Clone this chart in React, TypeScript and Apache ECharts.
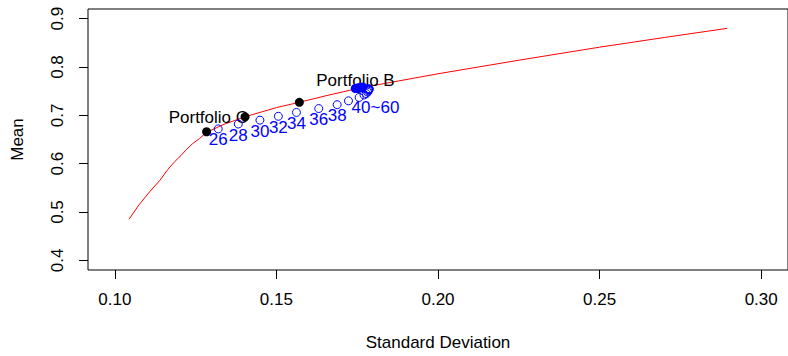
import React, { useEffect, useRef } from "react";
import * as echarts from "echarts";

// Efficient frontier (standard deviation vs. mean)
const frontierSd = [0.1044, 0.1075, 0.1108, 0.114, 0.1164, 0.1185, 0.1205, 0.1221, 0.124, 0.1262, 0.1284, 0.134, 0.1403, 0.15, 0.1571, 0.165, 0.1754, 0.2, 0.225, 0.25, 0.27, 0.2895];
const frontierMean = [0.485, 0.515, 0.542, 0.566, 0.588, 0.604, 0.617, 0.629, 0.641, 0.652, 0.665, 0.682, 0.697, 0.716, 0.727, 0.74, 0.756, 0.786, 0.814, 0.841, 0.861, 0.88];

// Highlighted portfolios on the frontier
const keySd = [0.1284, 0.1403, 0.1571, 0.1754];
const keyMean = [0.666, 0.697, 0.727, 0.7558];
const keyLabels = ["", "Portfolio C", "", "Portfolio B"];

// Portfolios built from windows of 26 to 60 periods
const windowSd = [0.132, 0.1382, 0.1449, 0.1506, 0.1562, 0.1631, 0.1688, 0.1723, 0.1756, 0.1771, 0.1778, 0.1782, 0.1784, 0.1785, 0.1786, 0.1786, 0.1787, 0.1787];
const windowMean = [0.672, 0.682, 0.69, 0.698, 0.706, 0.714, 0.722, 0.73, 0.737, 0.742, 0.745, 0.748, 0.75, 0.752, 0.753, 0.754, 0.754, 0.755];
const windowLabels = ["26", "28", "30", "32", "34", "36", "38", "40~60", "", "", "", "", "", "", "", "", "", ""];

// Tangency points for the longer windows
const tangentSd = [0.1744, 0.1748, 0.1752, 0.1756, 0.176, 0.1764, 0.1768];
const tangentMean = [0.7555, 0.756, 0.7565, 0.757, 0.7575, 0.758, 0.7585];

const sdTicks = [0.1, 0.15, 0.2, 0.25, 0.3];
const meanTicks = [0.4, 0.5, 0.6, 0.7, 0.8, 0.9];

const FONT = "'Liberation Sans', Arial, Helvetica, sans-serif";
const FS = 17;

const zip = (a: number[], b: number[]) => a.map((v, i) => [v, b[i]]);

export default function App() {
  const ref = useRef<HTMLDivElement>(null);

  useEffect(() => {
    if (!ref.current) return;
    const chart = echarts.init(ref.current, undefined, { renderer: "svg" });
    chart.setOption({
      animation: false,
      backgroundColor: "#fff",
      textStyle: { fontFamily: FONT },
      grid: {
        left: 88,
        top: 9,
        right: -4,
        bottom: 86,
        show: true,
        borderColor: "#000",
        borderWidth: 1,
        backgroundColor: "transparent",
      },
      xAxis: {
        type: "value",
        min: 0.0917,
        max: 0.3083,
        axisLine: { show: false },
        splitLine: { show: false },
        axisTick: { show: true, customValues: sdTicks, length: 9, lineStyle: { color: "#000" } },
        axisLabel: {
          customValues: sdTicks,
          formatter: (v: number) => v.toFixed(2),
          margin: 21,
          fontSize: FS,
          color: "#000",
          fontFamily: FONT,
        },
        name: "Standard Deviation",
        nameLocation: "middle",
        nameGap: 64,
        nameTextStyle: { fontSize: FS, color: "#000", fontFamily: FONT },
      },
      yAxis: {
        type: "value",
        min: 0.38,
        max: 0.92,
        axisLine: { show: false },
        splitLine: { show: false },
        axisTick: { show: true, customValues: meanTicks, length: 9, lineStyle: { color: "#000" } },
        axisLabel: {
          customValues: meanTicks,
          formatter: (v: number) => v.toFixed(1),
          rotate: 90,
          margin: 22,
          fontSize: FS,
          color: "#000",
          fontFamily: FONT,
        },
        name: "Mean",
        nameLocation: "middle",
        nameRotate: 90,
        nameGap: 62,
        nameTextStyle: { fontSize: FS, color: "#000", fontFamily: FONT },
      },
      series: [
        {
          type: "line",
          data: zip(frontierSd, frontierMean),
          showSymbol: false,
          symbol: "none",
          lineStyle: { color: "#ff0000", width: 1 },
          emphasis: { disabled: true },
          z: 1,
        },
        {
          type: "scatter",
          data: zip(keySd, keyMean).map((p, i) => ({
            value: p,
            label:
              i === 1
                ? { show: true, position: "inside", align: "right", offset: [3, 1] }
                : i === 3
                ? { show: true, position: "inside", align: "center", offset: [-3, -8] }
                : { show: false },
          })),
          symbol: "circle",
          symbolSize: 9,
          itemStyle: { color: "#000", opacity: 1 },
          emphasis: { disabled: true },
          label: {
            show: true,
            formatter: (p: any) => keyLabels[p.dataIndex],
            color: "#000",
            opacity: 1,
            fontSize: FS,
            fontFamily: FONT,
          },
          z: 2,
        },
        {
          type: "scatter",
          data: zip(tangentSd, tangentMean),
          symbol: "circle",
          symbolSize: 9,
          itemStyle: { color: "#0000ff", opacity: 1 },
          emphasis: { disabled: true },
          z: 3,
        },
        {
          type: "scatter",
          data: zip(windowSd, windowMean).map((p, i) => ({
            value: p,
            label: i === 7 ? { offset: [27, 7] } : {},
          })),
          symbol: "circle",
          symbolSize: 8,
          itemStyle: { color: "transparent", borderColor: "#0000ff", borderWidth: 1, opacity: 1 },
          emphasis: { disabled: true },
          label: {
            show: true,
            position: "inside",
            offset: [0, 11],
            formatter: (p: any) => windowLabels[p.dataIndex],
            color: "#0000ff",
            opacity: 1,
            fontSize: FS,
            fontFamily: FONT,
          },
          z: 4,
        },
      ],
    });
    return () => chart.dispose();
  }, []);

  return (
    <div
      ref={ref}
      style={{ position: "fixed", left: 0, top: 0, width: 788, height: 356 }}
    />
  );
}
